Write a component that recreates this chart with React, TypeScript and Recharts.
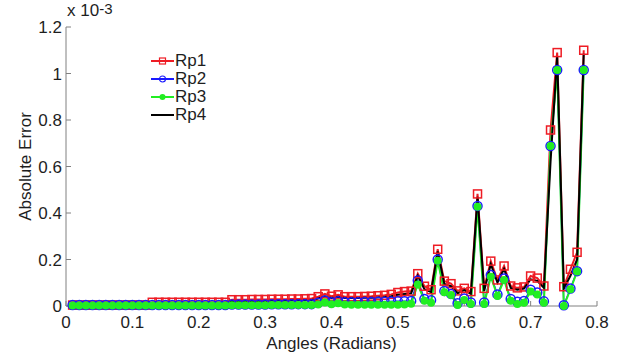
import React from 'react';
import { LineChart, Line, XAxis, YAxis } from 'recharts';

// angles in radians
const angles = [
  0.01, 0.02, 0.03, 0.04, 0.05, 0.06, 0.07, 0.08, 0.09, 0.1,
  0.11, 0.12, 0.13, 0.14, 0.15, 0.16, 0.17, 0.18, 0.19, 0.2,
  0.21, 0.22, 0.23, 0.24, 0.25, 0.26, 0.27, 0.28, 0.29, 0.3,
  0.31, 0.32, 0.33, 0.34, 0.35, 0.36, 0.37, 0.38, 0.39, 0.4,
  0.41, 0.42, 0.43, 0.44, 0.45, 0.46, 0.47, 0.48, 0.49, 0.5,
  0.51, 0.52, 0.53, 0.54, 0.55, 0.56, 0.57, 0.58, 0.59, 0.6,
  0.61, 0.62, 0.63, 0.64, 0.65, 0.66, 0.67, 0.68, 0.69, 0.7,
  0.71, 0.72, 0.73, 0.74, 0.75, 0.76, 0.77, 0.78,
];

// absolute error, x 10^-3
const rp1 = [
  0.004, 0.004, 0.004, 0.004, 0.004, 0.004, 0.004, 0.004, 0.004, 0.004,
  0.004, 0.004, 0.016, 0.016, 0.016, 0.016, 0.016, 0.016, 0.016, 0.016,
  0.016, 0.016, 0.016, 0.016, 0.027, 0.027, 0.027, 0.028, 0.028, 0.028,
  0.029, 0.029, 0.029, 0.03, 0.03, 0.031, 0.032, 0.04, 0.052, 0.042,
  0.048, 0.04, 0.04, 0.04, 0.041, 0.042, 0.044, 0.046, 0.05, 0.058,
  0.062, 0.064, 0.139, 0.085, 0.07, 0.244, 0.107, 0.096, 0.065, 0.076,
  0.062, 0.482, 0.076, 0.193, 0.112, 0.172, 0.086, 0.078, 0.082, 0.129,
  0.12, 0.086, 0.757, 1.09, 0.083, 0.158, 0.231, 1.1,
];

const rp2 = [
  0.004, 0.004, 0.004, 0.004, 0.004, 0.004, 0.004, 0.004, 0.004, 0.004,
  0.004, 0.004, 0.004, 0.004, 0.004, 0.004, 0.004, 0.004, 0.004, 0.004,
  0.004, 0.004, 0.004, 0.004, 0.006, 0.006, 0.006, 0.006, 0.006, 0.006,
  0.007, 0.007, 0.007, 0.007, 0.008, 0.008, 0.008, 0.014, 0.024, 0.016,
  0.02, 0.016, 0.016, 0.016, 0.017, 0.017, 0.018, 0.018, 0.019, 0.02,
  0.02, 0.022, 0.11, 0.03, 0.025, 0.2, 0.065, 0.052, 0.012, 0.032,
  0.015, 0.43, 0.015, 0.133, 0.05, 0.118, 0.03, 0.018, 0.022, 0.07,
  0.058, 0.02, 0.688, 1.015, 0.003, 0.075, 0.15, 1.015,
];

const rp3 = [
  0.002, 0.002, 0.002, 0.002, 0.002, 0.002, 0.002, 0.002, 0.002, 0.002,
  0.002, 0.002, 0.002, 0.002, 0.002, 0.002, 0.002, 0.002, 0.002, 0.002,
  0.002, 0.002, 0.002, 0.002, 0.003, 0.003, 0.003, 0.003, 0.003, 0.003,
  0.004, 0.004, 0.004, 0.004, 0.004, 0.004, 0.004, 0.006, 0.015, 0.008,
  0.012, 0.006, 0.005, 0.005, 0.005, 0.005, 0.005, 0.005, 0.005, 0.005,
  0.006, 0.01, 0.093, 0.023, 0.014, 0.195, 0.059, 0.047, 0.004, 0.026,
  0.009, 0.427, 0.009, 0.126, 0.043, 0.112, 0.023, 0.009, 0.014, 0.062,
  0.05, 0.014, 0.688, 1.015, 0.0, 0.072, 0.148, 1.015,
];

const rp4 = [
  0.003, 0.003, 0.003, 0.003, 0.003, 0.003, 0.003, 0.003, 0.003, 0.003,
  0.003, 0.003, 0.012, 0.012, 0.012, 0.012, 0.012, 0.012, 0.012, 0.012,
  0.012, 0.012, 0.012, 0.012, 0.021, 0.021, 0.021, 0.022, 0.022, 0.022,
  0.023, 0.023, 0.023, 0.024, 0.024, 0.025, 0.026, 0.032, 0.042, 0.035,
  0.04, 0.034, 0.034, 0.034, 0.035, 0.036, 0.037, 0.039, 0.042, 0.048,
  0.052, 0.055, 0.13, 0.072, 0.06, 0.235, 0.095, 0.085, 0.055, 0.068,
  0.052, 0.47, 0.065, 0.18, 0.1, 0.16, 0.078, 0.07, 0.075, 0.115,
  0.108, 0.078, 0.62, 1.075, 0.075, 0.13, 0.2, 1.085,
];

const xTicks = [0, 0.1, 0.2, 0.3, 0.4, 0.5, 0.6, 0.7, 0.8];
const yTicks = [0, 0.2, 0.4, 0.6, 0.8, 1, 1.2];

const series = [
  { name: 'Rp1', color: '#ee1c24', marker: 'square' },
  { name: 'Rp2', color: '#1a1aff', marker: 'circle' },
  { name: 'Rp3', color: '#22ee22', marker: 'dot' },
  { name: 'Rp4', color: '#000000', marker: 'none' },
];

const data = angles.map((a, i) => ({ angle: a, Rp1: rp1[i], Rp2: rp2[i], Rp3: rp3[i], Rp4: rp4[i] }));

const font = '"Liberation Sans", Arial, sans-serif';
const axisColor = '#808080';
const textColor = '#1e1e1e';
const tickStyle = { fontSize: 17, fill: textColor, fontFamily: font };

const squareDot = (props: any) => {
  const { cx, cy, index } = props;
  return (
    <rect key={`sq-${index}`} x={cx - 4} y={cy - 4} width={8} height={8}
      fill="none" stroke="#ee1c24" strokeWidth={1.5} />
  );
};

function LegendBox() {
  return (
    <div style={{ position: 'absolute', left: 151, top: 52, fontFamily: font, fontSize: 17, color: textColor }}>
      {series.map((s) => (
        <div key={s.name} style={{ display: 'flex', alignItems: 'center', height: 18 }}>
          <svg width={23} height={12}>
            <line x1={0} x2={23} y1={6} y2={6} stroke={s.color} strokeWidth={2} />
            {s.marker === 'square' && <rect x={8.5} y={3} width={6} height={6} fill="none" stroke={s.color} strokeWidth={1.2} />}
            {s.marker === 'circle' && <circle cx={11.5} cy={6} r={3} fill="none" stroke={s.color} strokeWidth={1.2} />}
            {s.marker === 'dot' && <circle cx={11.5} cy={6} r={3} fill={s.color} />}
          </svg>
          <span style={{ marginLeft: 1 }}>{s.name}</span>
        </div>
      ))}
    </div>
  );
}

export default function App() {
  return (
    <div style={{ position: 'absolute', left: 0, top: 0, width: 620, height: 353, background: '#fff' }}>
      <LineChart width={620} height={353} data={data} margin={{ top: 27, right: 23, bottom: 0, left: 0 }}>
        <XAxis dataKey="angle" type="number" domain={[0, 0.8]} ticks={xTicks}
          stroke={axisColor} tickSize={-5} tickMargin={15} tick={tickStyle} height={47}
          label={{ value: 'Angles (Radians)', position: 'insideBottom', offset: 4, style: { fontSize: 17, fill: textColor, fontFamily: font } }} />
        <XAxis xAxisId="top" orientation="top" dataKey="angle" type="number" domain={[0, 0.8]} ticks={xTicks}
          stroke={axisColor} tickSize={-5} tickFormatter={() => ''} height={0} />
        <YAxis type="number" domain={[0, 1.2]} ticks={yTicks} stroke={axisColor}
          tickSize={-5} tickMargin={9} tick={tickStyle} width={66}
          label={{ value: 'Absolute Error', angle: -90, position: 'insideLeft', offset: 25, style: { fontSize: 17, fill: textColor, fontFamily: font, textAnchor: 'middle' } }} />
        <YAxis yAxisId="right" orientation="right" type="number" domain={[0, 1.2]} ticks={yTicks}
          stroke={axisColor} tickSize={-5} tickFormatter={() => ''} width={0} />
        <Line dataKey="Rp1" stroke="#ee1c24" strokeWidth={2} dot={squareDot} isAnimationActive={false} />
        <Line dataKey="Rp2" stroke="#1a1aff" strokeWidth={1.5}
          dot={{ r: 4.5, fill: 'none', stroke: '#1a1aff', strokeWidth: 1.5 }} isAnimationActive={false} />
        <Line dataKey="Rp3" stroke="#22ee22" strokeWidth={2}
          dot={{ r: 4, fill: '#22ee22', stroke: 'none' }} isAnimationActive={false} />
        <Line dataKey="Rp4" stroke="#000" strokeWidth={2} dot={false} isAnimationActive={false} />
      </LineChart>
      <div style={{ position: 'absolute', left: 67, top: 1, fontFamily: font, fontSize: 17, color: textColor, lineHeight: '20px' }}>
        x 10<sup style={{ fontSize: 15, position: 'relative', top: -2, verticalAlign: 'baseline' }}>-3</sup>
      </div>
      <LegendBox />
    </div>
  );
}
